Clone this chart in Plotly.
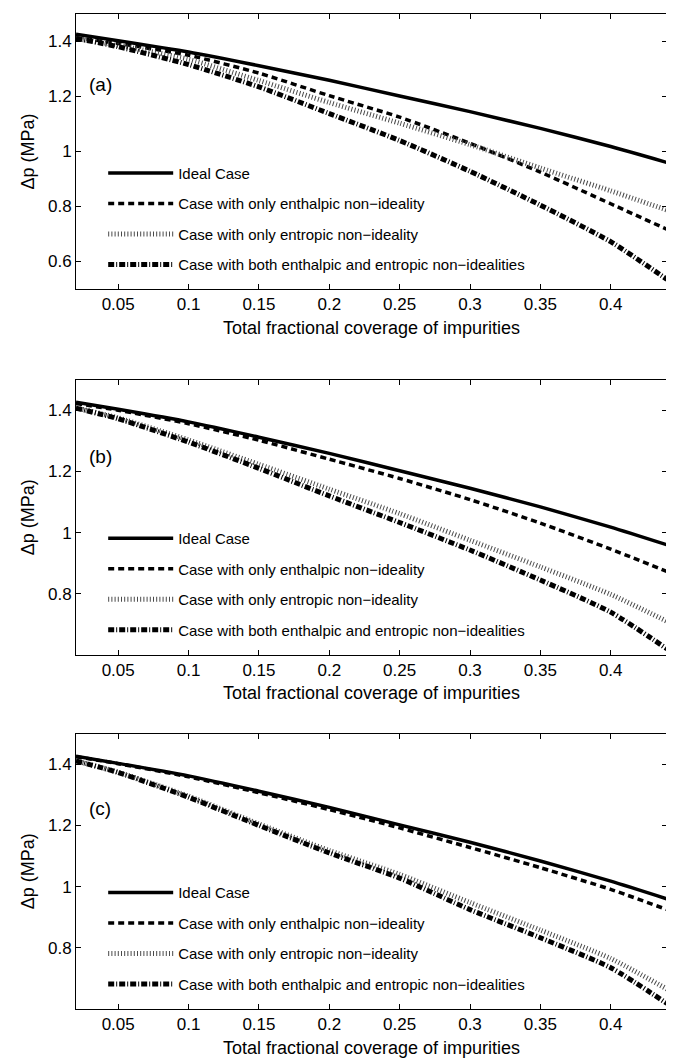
import plotly.graph_objects as go

# ---------------- data ----------------
coverage = [0.02, 0.05, 0.10, 0.15, 0.20, 0.25, 0.30, 0.35, 0.40, 0.44]

ideal = [1.426, 1.403, 1.362, 1.312, 1.259, 1.202, 1.145, 1.084, 1.018, 0.960]

a_enthalpic = [1.414, 1.393, 1.350, 1.285, 1.203, 1.125, 1.030, 0.925, 0.810, 0.717]
a_entropic = [1.411, 1.386, 1.335, 1.258, 1.178, 1.103, 1.025, 0.940, 0.857, 0.787]
a_both = [1.411, 1.381, 1.316, 1.235, 1.138, 1.040, 0.928, 0.805, 0.672, 0.535]

b_enthalpic = [1.422, 1.400, 1.356, 1.302, 1.240, 1.177, 1.108, 1.031, 0.946, 0.873]
b_entropic = [1.408, 1.375, 1.303, 1.223, 1.142, 1.062, 0.975, 0.888, 0.798, 0.710]
b_both = [1.407, 1.372, 1.296, 1.210, 1.120, 1.033, 0.943, 0.845, 0.740, 0.620]

c_enthalpic = [1.425, 1.402, 1.359, 1.307, 1.252, 1.192, 1.128, 1.062, 0.991, 0.925]
c_entropic = [1.411, 1.374, 1.296, 1.205, 1.118, 1.040, 0.948, 0.858, 0.765, 0.665]
c_both = [1.411, 1.373, 1.292, 1.200, 1.110, 1.028, 0.925, 0.833, 0.735, 0.618]

series_names = [
    "Ideal Case",
    "Case with only enthalpic non\u2212ideality",
    "Case with only entropic non\u2212ideality",
    "Case with both enthalpic and entropic non\u2212idealities",
]
panel_labels = ["(a)", "(b)", "(c)"]
x_ticks = [0.05, 0.10, 0.15, 0.20, 0.25, 0.30, 0.35, 0.40]
x_ticktext = ["0.05", "0.1", "0.15", "0.2", "0.25", "0.3", "0.35", "0.4"]
y_ticks_a = [0.6, 0.8, 1.0, 1.2, 1.4]
y_ticks_bc = [0.8, 1.0, 1.2, 1.4]
y_ticktext_a = ["0.6", "0.8", "1", "1.2", "1.4"]
y_ticktext_bc = ["0.8", "1", "1.2", "1.4"]
x_title = "Total fractional coverage of impurities"
y_title = "\u0394p (MPa)"

panels = [
    [ideal, a_enthalpic, a_entropic, a_both],
    [ideal, b_enthalpic, b_entropic, b_both],
    [ideal, c_enthalpic, c_entropic, c_both],
]

# ---------------- styles ----------------
FONT = "Liberation Sans, Arial, Helvetica, sans-serif"
styles = [
    dict(color="black", width=3.5, dash="solid"),
    dict(color="black", width=3.5, dash="6px,4px"),
    dict(color="#4a4a4a", width=5, dash="1px,2.2px"),
    dict(color="black", width=5, dash="6px,2px,1px,2px"),
]

y_domains = [[0.7236, 1.0], [0.3558, 0.6325], [0.0, 0.2767]]
y_ranges = [[0.5, 1.5], [0.6, 1.5], [0.6, 1.5]]
legend_ids = ["legend", "legend2", "legend3"]
legend_tops = [0.8565, 0.4895, 0.1335]
label_y = [1.243, 1.25, 1.256]

fig = go.Figure()

for p, curves in enumerate(panels):
    xa = "x" if p == 0 else f"x{p+1}"
    ya = "y" if p == 0 else f"y{p+1}"
    for s, yv in enumerate(curves):
        fig.add_trace(go.Scatter(
            x=coverage, y=yv, mode="lines", name=series_names[s],
            line=dict(shape="spline", smoothing=0.6, **styles[s]),
            xaxis=xa, yaxis=ya, legend=legend_ids[p],
            legendgroup=f"p{p}s{s}", showlegend=True,
        ))

layout = dict(
    width=674, height=1060,
    margin=dict(l=68, r=15, t=6, b=59),
    paper_bgcolor="white", plot_bgcolor="white",
    font=dict(family=FONT, size=17, color="black"),
    showlegend=True,
)

for p in range(3):
    xk = "xaxis" if p == 0 else f"xaxis{p+1}"
    yk = "yaxis" if p == 0 else f"yaxis{p+1}"
    ya = "y" if p == 0 else f"y{p+1}"
    xa = "x" if p == 0 else f"x{p+1}"
    layout[xk] = dict(
        domain=[0, 1], anchor=ya, range=[0.02, 0.44],
        tickmode="array", tickvals=x_ticks, ticktext=x_ticktext,
        ticks="inside", ticklen=5, tickwidth=1, tickcolor="black",
        showline=True, linecolor="black", linewidth=1, mirror="ticks",
        showgrid=False, zeroline=False,
        tickfont=dict(size=17),
        title=dict(text=x_title, font=dict(size=18), standoff=7),
    )
    layout[yk] = dict(
        domain=y_domains[p], anchor=xa, range=y_ranges[p],
        tickmode="array",
        tickvals=y_ticks_a if p == 0 else y_ticks_bc,
        ticktext=y_ticktext_a if p == 0 else y_ticktext_bc,
        ticks="inside", ticklen=5, tickwidth=1, tickcolor="black",
        showline=True, linecolor="black", linewidth=1, mirror="ticks",
        showgrid=False, zeroline=False,
        tickfont=dict(size=17),
        title=dict(text=y_title, font=dict(size=18), standoff=8),
    )
    layout[legend_ids[p]] = dict(
        x=0.046, y=legend_tops[p], xref="paper", yref="paper",
        xanchor="left", yanchor="top",
        bgcolor="rgba(0,0,0,0)", borderwidth=0,
        font=dict(size=15, family=FONT),
        itemwidth=65, tracegroupgap=8,
        traceorder="grouped",
    )

fig.update_layout(**layout)

for p in range(3):
    xa = "x" if p == 0 else f"x{p+1}"
    ya = "y" if p == 0 else f"y{p+1}"
    fig.add_annotation(
        x=0.028, y=label_y[p], xref=xa, yref=ya, text=panel_labels[p],
        showarrow=False, xanchor="left", yanchor="middle",
        font=dict(size=19, family=FONT, color="black"),
    )

fig.write_html("out.html")
